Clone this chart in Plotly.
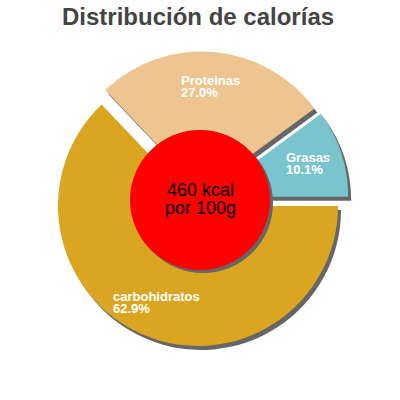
import numpy as np
import plotly.graph_objects as go

# calorie split per 100 g
labels = ["Grasas", "Proteinas", "carbohidratos"]
values = [10.1, 27.0, 62.9]
colors = ["#7ac5cd", "#eec591", "#daa520"]
title_text = "Distribución de calorías"
center_lines = ["460 kcal", "por 100g"]

W = H = 400
cx, cy = 201, 199      # pie centre in px (from top-left)
R = 140                # slice radius in px
pull = 0.054
sdx, sdy = 3, 4        # shadow offset in px
shadow = "#666666"

total = sum(values)
# plotly ends the first slice at `rotation` when going counterclockwise,
# so shift it so the first slice starts at 3 o'clock
rot = 90 - values[0] / total * 360


def to_paper(x, y):
    return x / W, 1 - y / H


def pie_domain(dx=0, dy=0):
    half = R * (1 + pull)
    x0, y1 = to_paper(cx + dx - half, cy + dy - half)
    x1, y0 = to_paper(cx + dx + half, cy + dy + half)
    return dict(x=[x0, x1], y=[y0, y1])


fig = go.Figure()
# shadow pie underneath
fig.add_trace(go.Pie(values=values, labels=labels, sort=False,
                     direction="counterclockwise", rotation=rot,
                     pull=pull, textinfo="none", hoverinfo="skip",
                     marker=dict(colors=[shadow] * len(values), line=dict(width=0)),
                     domain=pie_domain(sdx, sdy)))
fig.add_trace(go.Pie(values=values, labels=labels, sort=False,
                     direction="counterclockwise", rotation=rot,
                     pull=pull, textinfo="none", hoverinfo="label+percent",
                     marker=dict(colors=colors, line=dict(width=0)),
                     domain=pie_domain()))

# slice labels, centred at 3/4 of the radius on each slice bisector
start = 0.0
annotations = []
for lab, v in zip(labels, values):
    span = v / total * 360
    mid = np.radians(start + span / 2)
    dist = pull * R + 0.75 * R
    x, y = to_paper(cx + dist * np.cos(mid), cy - dist * np.sin(mid))
    # small base size keeps the two lines tight, spans give the real size
    txt = ('<span style="font-size:13px">%s</span><br>'
           '<span style="font-size:13px">%.1f%%</span>' % (lab, v / total * 100))
    annotations.append(dict(x=x, y=y, xref="paper", yref="paper", text=txt,
                            showarrow=False, align="left", xanchor="center",
                            yanchor="middle",
                            font=dict(family="Liberation Sans, Arial", size=9.5,
                                      color="white", weight="bold")))
    start += span

# red disc in the middle with its text
ccx, ccy, cr = 200, 200, 70
for i, line in enumerate(center_lines):
    x, y = to_paper(ccx, ccy - 10 + 18 * i)
    annotations.append(dict(x=x, y=y, xref="paper", yref="paper", text=line,
                            showarrow=False, xanchor="center", yanchor="middle",
                            font=dict(family="Liberation Sans, Arial", size=18,
                                      color="black")))

# title
tx, ty = to_paper(198, 17)
annotations.append(dict(x=tx, y=ty, xref="paper", yref="paper", text=title_text,
                        showarrow=False, xanchor="center", yanchor="middle",
                        font=dict(family="Liberation Sans, Arial", size=24,
                                  color="#444444", weight="bold")))

shapes = []
for dx, col in [(3, shadow), (0, "#ff0000")]:
    x0, y1 = to_paper(ccx - cr + dx, ccy - cr + dx)
    x1, y0 = to_paper(ccx + cr + dx, ccy + cr + dx)
    shapes.append(dict(type="circle", xref="paper", yref="paper",
                       x0=x0, x1=x1, y0=y0, y1=y1, fillcolor=col,
                       line=dict(width=0), layer="above"))

fig.update_layout(
    width=W, height=H,
    margin=dict(l=0, r=0, t=0, b=0),
    paper_bgcolor="white", plot_bgcolor="white",
    showlegend=False,
    annotations=annotations,
    shapes=shapes,
)

# drop the default body margin so the figure sits at the window corner
fig.write_html("out.html", config={"displayModeBar": False},
               post_script="document.body.style.margin='0';")
